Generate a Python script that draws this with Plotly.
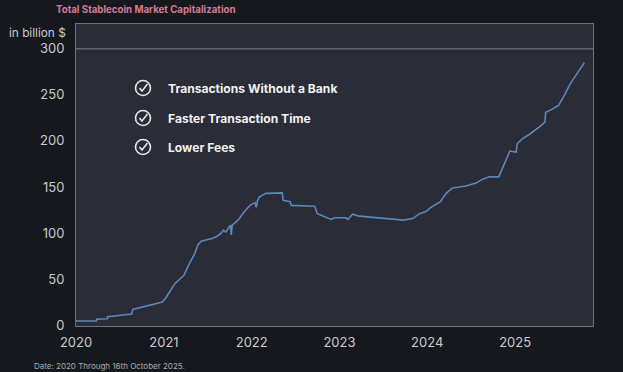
import plotly.graph_objects as go

dates = [
    "2020-01-01", "2020-03-25", "2020-03-28", "2020-05-10", "2020-05-12", "2020-08-20",
    "2020-08-24", "2020-10-01", "2020-12-25", "2021-01-10", "2021-02-15", "2021-03-25",
    "2021-04-15", "2021-05-10", "2021-05-22", "2021-06-05", "2021-07-20", "2021-08-10",
    "2021-08-28", "2021-09-05", "2021-09-15", "2021-10-05", "2021-10-08", "2021-10-12",
    "2021-11-05", "2021-12-01", "2021-12-25", "2022-01-15", "2022-01-20", "2022-01-25",
    "2022-02-01", "2022-03-01", "2022-04-10", "2022-05-08", "2022-05-12", "2022-06-10",
    "2022-06-15", "2022-09-20", "2022-10-01", "2022-11-01", "2022-11-28", "2022-12-12",
    "2023-01-28", "2023-02-05", "2023-02-25", "2023-03-25", "2023-06-15", "2023-09-25",
    "2023-11-01", "2023-12-01", "2023-12-28", "2024-01-20", "2024-02-25", "2024-03-20",
    "2024-04-15", "2024-06-10", "2024-07-25", "2024-08-15", "2024-09-15", "2024-10-25",
    "2024-12-10", "2025-01-05", "2025-01-10", "2025-02-01", "2025-03-01", "2025-03-25",
    "2025-04-20", "2025-05-05", "2025-05-08", "2025-06-01", "2025-07-01", "2025-07-28",
    "2025-08-18", "2025-09-05", "2025-10-16",
]
market_cap = [
    4.5, 4.5, 6.5, 6.8, 9, 12,
    17, 19.5, 25, 30, 45, 54,
    66, 78, 87, 91, 94, 96.5,
    100, 103, 101, 108.5, 98, 108.5,
    114, 123, 130, 133, 128, 135,
    139, 143, 143.5, 143.6, 135.5, 134,
    130, 129, 121, 117.5, 114.7, 116.5,
    116.5, 114.7, 120.5, 118.3, 116.5, 114,
    115.7, 121, 123.5, 128.4, 134, 143,
    149, 151, 154.5, 158, 161, 161,
    189, 188, 197, 202.6, 207, 211.6,
    217, 220.5, 231, 234, 238.7, 251,
    262, 269, 285,
]
y_ticks = [0, 50, 100, 150, 200, 250, 300]
x_tick_dates = ["2020-01-01", "2021-01-01", "2022-01-01", "2023-01-01", "2024-01-01", "2025-01-01"]
x_tick_labels = ["2020", "2021", "2022", "2023", "2024", "2025"]
benefits = ["Transactions Without a Bank", "Faster Transaction Time", "Lower Fees"]

W, H = 623, 372
ML, MR, MT, MB = 76, 30, 24, 46
PW, PH = W - ML - MR, H - MT - MB

def px(x):
    return (x - ML) / PW

def py(y):
    return (H - MB - y) / PH

fig = go.Figure()
fig.add_trace(go.Scatter(
    x=dates, y=market_cap, mode="lines",
    line=dict(color="#5d86bb", width=1.6),
    hoverinfo="skip", showlegend=False,
))

shapes = [dict(type="line", xref="paper", yref="y", x0=0, x1=1, y0=300, y1=300,
               line=dict(color="#80838b", width=1))]
annotations = []
icon_y = [88, 118, 147]
for txt, yy in zip(benefits, icon_y):
    cx, r = 143, 7.5
    shapes.append(dict(type="circle", xref="paper", yref="paper",
                       x0=px(cx - r), x1=px(cx + r), y0=py(yy + r), y1=py(yy - r),
                       line=dict(color="#e8e8ea", width=1.6)))
    path = "M {:.5f},{:.5f} L {:.5f},{:.5f} L {:.5f},{:.5f}".format(
        px(cx - 3.5), py(yy), px(cx - 1), py(yy + 3), px(cx + 4.5), py(yy - 4))
    shapes.append(dict(type="path", xref="paper", yref="paper", path=path,
                       line=dict(color="#e8e8ea", width=1.6)))
    annotations.append(dict(xref="paper", yref="paper", x=px(166), y=py(yy),
                            xanchor="left", yanchor="middle", showarrow=False,
                            text="<b>" + txt + "</b>",
                            font=dict(family="Inter", size=12.1, color="#f0f0f2")))

annotations += [
    dict(xref="paper", yref="paper", x=px(54), y=py(9), xanchor="left", yanchor="middle",
         showarrow=False, text="<b>Total Stablecoin Market Capitalization</b>",
         font=dict(family="Inter", size=9.7, color="#d57b96")),
    dict(xref="paper", yref="paper", x=px(68), y=py(33), xanchor="right", yanchor="middle",
         showarrow=False, text="in billion $",
         font=dict(family="Inter", size=11.8, color="#c9cbcf")),
    dict(xref="paper", yref="paper", x=px(32), y=py(366), xanchor="left", yanchor="middle",
         showarrow=False, text="Date: 2020 Through 16th October 2025.",
         font=dict(family="Inter", size=8, color="#a9abb0")),
]

fig.update_layout(
    width=W, height=H,
    margin=dict(l=ML, r=MR, t=MT, b=MB),
    paper_bgcolor="#15181d", plot_bgcolor="#2a2d37",
    font=dict(family="Inter", color="#c9cbcf", size=13),
    shapes=shapes, annotations=annotations,
    xaxis=dict(range=["2020-01-01", "2025-11-21"], tickvals=x_tick_dates, ticktext=x_tick_labels,
               showgrid=False, zeroline=False, showline=True, mirror=True,
               linecolor="#6e7179", linewidth=1, ticks="", ticklabelstandoff=4,
               tickfont=dict(size=13, color="#c9cbcf")),
    yaxis=dict(range=[-1, 327], tickvals=y_ticks, showgrid=False, zeroline=False,
               showline=True, mirror=True, linecolor="#6e7179", linewidth=1, ticks="",
               ticklabelstandoff=8, tickfont=dict(size=13, color="#c9cbcf")),
)

fig.write_html(
    "out.html",
    config={"displayModeBar": False},
    post_script="document.body.style.margin='0';document.body.style.overflow='hidden';"
                "document.body.style.background='#15181d';",
)
